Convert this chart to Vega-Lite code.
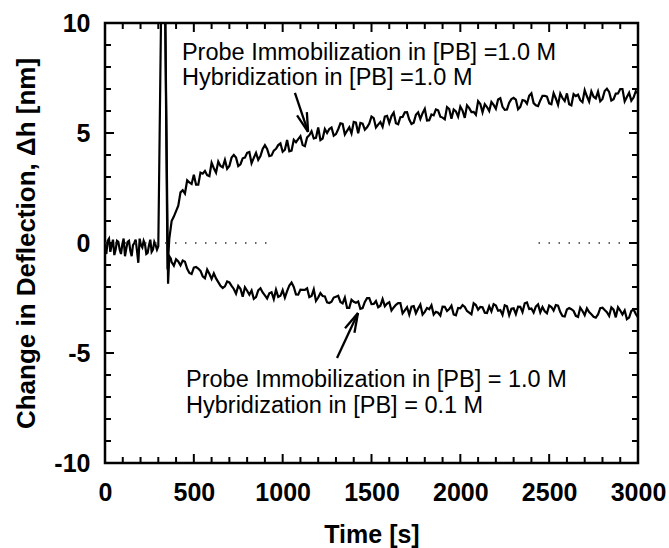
{
  "$schema": "https://vega.github.io/schema/vega-lite/v6.json",
  "width": 533,
  "height": 440,
  "autosize": "none",
  "padding": {"left": 105, "top": 23, "right": 31, "bottom": 85},
  "background": "white",
  "config": {
    "font": "Liberation Sans",
    "view": {"stroke": "black", "strokeWidth": 2.5},
    "axis": {"grid": false, "domain": false, "labelColor": "black", "titleColor": "black"}
  },
  "datasets": {
    "traces": [
      {"s":"a","t":0,"h":-0.2},{"s":"a","t":15,"h":0.1},{"s":"a","t":30,"h":-0.4},{"s":"a","t":45,"h":0.15},{"s":"a","t":60,"h":-0.3},{"s":"a","t":75,"h":0.05},{"s":"a","t":90,"h":-0.5},{"s":"a","t":105,"h":0.2},{"s":"a","t":120,"h":-0.25},{"s":"a","t":135,"h":0.1},{"s":"a","t":150,"h":-0.6},{"s":"a","t":165,"h":0.0},{"s":"a","t":180,"h":-0.35},{"s":"a","t":195,"h":0.2},{"s":"a","t":210,"h":-0.2},{"s":"a","t":225,"h":-0.05},{"s":"a","t":240,"h":-0.45},{"s":"a","t":255,"h":0.15},{"s":"a","t":270,"h":-0.3},{"s":"a","t":285,"h":-0.1},{"s":"a","t":300,"h":-0.15},
      {"s":"a","t":7.5,"h":-0.5},{"s":"a","t":22.5,"h":0.2},{"s":"a","t":37.5,"h":-0.1},{"s":"a","t":52.5,"h":-0.55},{"s":"a","t":67.5,"h":0.1},{"s":"a","t":82.5,"h":-0.3},{"s":"a","t":97.5,"h":-0.05},{"s":"a","t":112.5,"h":-0.6},{"s":"a","t":127.5,"h":0.05},{"s":"a","t":142.5,"h":-0.35},{"s":"a","t":157.5,"h":-0.1},{"s":"a","t":172.5,"h":0.15},{"s":"a","t":187.5,"h":-0.9},{"s":"a","t":202.5,"h":-0.1},{"s":"a","t":217.5,"h":0.1},{"s":"a","t":232.5,"h":-0.5},{"s":"a","t":247.5,"h":-0.1},{"s":"a","t":262.5,"h":-0.4},{"s":"a","t":277.5,"h":0.05},{"s":"a","t":292.5,"h":-0.3},
      {"s":"a","t":318,"h":12},{"s":"a","t":337,"h":12},{"s":"a","t":352,"h":-1.2},{"s":"a","t":362,"h":0.2},{"s":"a","t":375,"h":1.0},{"s":"a","t":400,"h":1.45},{"s":"a","t":425,"h":2.3},{"s":"a","t":450,"h":2.25},{"s":"a","t":475,"h":2.75},{"s":"a","t":500,"h":3.1},{"s":"a","t":525,"h":2.65},{"s":"a","t":550,"h":3.15},{"s":"a","t":575,"h":3.08},{"s":"a","t":600,"h":3.65},{"s":"a","t":625,"h":3.2},{"s":"a","t":650,"h":3.5},{"s":"a","t":675,"h":3.78},{"s":"a","t":700,"h":3.5},{"s":"a","t":725,"h":4.0},{"s":"a","t":750,"h":3.5},{"s":"a","t":775,"h":3.85},{"s":"a","t":800,"h":4.1},{"s":"a","t":825,"h":3.63},{"s":"a","t":850,"h":4.1},{"s":"a","t":875,"h":3.95},{"s":"a","t":900,"h":4.45},{"s":"a","t":925,"h":3.95},{"s":"a","t":950,"h":4.2},{"s":"a","t":975,"h":4.45},{"s":"a","t":1000,"h":4.15},{"s":"a","t":1025,"h":4.68},{"s":"a","t":1050,"h":4.2},{"s":"a","t":1075,"h":4.58},{"s":"a","t":1100,"h":4.85},{"s":"a","t":1125,"h":4.4},{"s":"a","t":1150,"h":4.9},{"s":"a","t":1175,"h":4.75},{"s":"a","t":1200,"h":5.25},{"s":"a","t":1225,"h":4.75},{"s":"a","t":1250,"h":5.0},{"s":"a","t":1275,"h":5.25},{"s":"a","t":1300,"h":4.95},{"s":"a","t":1325,"h":5.44},{"s":"a","t":1350,"h":4.93},{"s":"a","t":1375,"h":5.26},{"s":"a","t":1400,"h":5.5},{"s":"a","t":1425,"h":4.99},{"s":"a","t":1450,"h":5.43},{"s":"a","t":1475,"h":5.26},{"s":"a","t":1500,"h":5.75},{"s":"a","t":1525,"h":5.25},{"s":"a","t":1550,"h":5.5},{"s":"a","t":1575,"h":5.75},{"s":"a","t":1600,"h":5.45},{"s":"a","t":1625,"h":5.93},{"s":"a","t":1650,"h":5.4},{"s":"a","t":1675,"h":5.73},{"s":"a","t":1700,"h":5.95},{"s":"a","t":1725,"h":5.41},{"s":"a","t":1750,"h":5.83},{"s":"a","t":1775,"h":5.64},{"s":"a","t":1800,"h":6.1},{"s":"a","t":1825,"h":5.58},{"s":"a","t":1850,"h":5.8},{"s":"a","t":1875,"h":6.03},{"s":"a","t":1900,"h":5.7},{"s":"a","t":1925,"h":6.18},{"s":"a","t":1950,"h":5.65},{"s":"a","t":1975,"h":5.98},{"s":"a","t":2000,"h":6.2},{"s":"a","t":2025,"h":5.69},{"s":"a","t":2050,"h":6.13},{"s":"a","t":2075,"h":5.96},{"s":"a","t":2100,"h":6.45},{"s":"a","t":2125,"h":5.94},{"s":"a","t":2150,"h":6.18},{"s":"a","t":2175,"h":6.41},{"s":"a","t":2200,"h":6.1},{"s":"a","t":2225,"h":6.58},{"s":"a","t":2250,"h":6.05},{"s":"a","t":2275,"h":6.38},{"s":"a","t":2300,"h":6.6},{"s":"a","t":2325,"h":6.08},{"s":"a","t":2350,"h":6.5},{"s":"a","t":2375,"h":6.33},{"s":"a","t":2400,"h":6.8},{"s":"a","t":2425,"h":6.26},{"s":"a","t":2450,"h":6.48},{"s":"a","t":2475,"h":6.69},{"s":"a","t":2500,"h":6.35},{"s":"a","t":2525,"h":6.81},{"s":"a","t":2550,"h":6.28},{"s":"a","t":2575,"h":6.59},{"s":"a","t":2600,"h":6.8},{"s":"a","t":2625,"h":6.26},{"s":"a","t":2650,"h":6.68},{"s":"a","t":2675,"h":6.49},{"s":"a","t":2700,"h":6.95},{"s":"a","t":2725,"h":6.43},{"s":"a","t":2750,"h":6.65},{"s":"a","t":2775,"h":6.88},{"s":"a","t":2800,"h":6.55},{"s":"a","t":2825,"h":7.01},{"s":"a","t":2850,"h":6.48},{"s":"a","t":2875,"h":6.79},{"s":"a","t":2900,"h":7.0},{"s":"a","t":2925,"h":6.44},{"s":"a","t":2950,"h":6.83},{"s":"a","t":2975,"h":6.61},{"s":"a","t":3000,"h":6.8},
      {"s":"a","t":387.5,"h":1.2},{"s":"a","t":412.5,"h":1.7},{"s":"a","t":437.5,"h":2.4},{"s":"a","t":462.5,"h":2.85},{"s":"a","t":487.5,"h":2.68},{"s":"a","t":512.5,"h":2.65},{"s":"a","t":537.5,"h":3.2},{"s":"a","t":562.5,"h":3.27},{"s":"a","t":587.5,"h":3.04},{"s":"a","t":612.5,"h":3.4},{"s":"a","t":637.5,"h":3.7},{"s":"a","t":662.5,"h":3.44},{"s":"a","t":687.5,"h":3.37},{"s":"a","t":712.5,"h":3.88},{"s":"a","t":737.5,"h":3.88},{"s":"a","t":762.5,"h":3.58},{"s":"a","t":787.5,"h":3.88},{"s":"a","t":812.5,"h":4.14},{"s":"a","t":837.5,"h":3.87},{"s":"a","t":862.5,"h":3.78},{"s":"a","t":887.5,"h":4.28},{"s":"a","t":912.5,"h":4.28},{"s":"a","t":937.5,"h":3.98},{"s":"a","t":962.5,"h":4.28},{"s":"a","t":987.5,"h":4.53},{"s":"a","t":1012.5,"h":4.24},{"s":"a","t":1037.5,"h":4.17},{"s":"a","t":1062.5,"h":4.69},{"s":"a","t":1087.5,"h":4.72},{"s":"a","t":1112.5,"h":4.45},{"s":"a","t":1137.5,"h":4.8},{"s":"a","t":1162.5,"h":5.08},{"s":"a","t":1187.5,"h":4.78},{"s":"a","t":1212.5,"h":4.68},{"s":"a","t":1237.5,"h":5.18},{"s":"a","t":1262.5,"h":5.18},{"s":"a","t":1287.5,"h":4.88},{"s":"a","t":1312.5,"h":5.17},{"s":"a","t":1337.5,"h":5.41},{"s":"a","t":1362.5,"h":5.1},{"s":"a","t":1387.5,"h":4.98},{"s":"a","t":1412.5,"h":5.47},{"s":"a","t":1437.5,"h":5.46},{"s":"a","t":1462.5,"h":5.15},{"s":"a","t":1487.5,"h":5.43},{"s":"a","t":1512.5,"h":5.68},{"s":"a","t":1537.5,"h":5.38},{"s":"a","t":1562.5,"h":5.28},{"s":"a","t":1587.5,"h":5.78},{"s":"a","t":1612.5,"h":5.77},{"s":"a","t":1637.5,"h":5.44},{"s":"a","t":1662.5,"h":5.72},{"s":"a","t":1687.5,"h":5.94},{"s":"a","t":1712.5,"h":5.61},{"s":"a","t":1737.5,"h":5.47},{"s":"a","t":1762.5,"h":5.94},{"s":"a","t":1787.5,"h":5.9},{"s":"a","t":1812.5,"h":5.57},{"s":"a","t":1837.5,"h":5.84},{"s":"a","t":1862.5,"h":6.07},{"s":"a","t":1887.5,"h":5.74},{"s":"a","t":1912.5,"h":5.62},{"s":"a","t":1937.5,"h":6.09},{"s":"a","t":1962.5,"h":6.07},{"s":"a","t":1987.5,"h":5.74},{"s":"a","t":2012.5,"h":6.02},{"s":"a","t":2037.5,"h":6.26},{"s":"a","t":2062.5,"h":5.95},{"s":"a","t":2087.5,"h":5.83},{"s":"a","t":2112.5,"h":6.32},{"s":"a","t":2137.5,"h":6.31},{"s":"a","t":2162.5,"h":6.0},{"s":"a","t":2187.5,"h":6.28},{"s":"a","t":2212.5,"h":6.52},{"s":"a","t":2237.5,"h":6.19},{"s":"a","t":2262.5,"h":6.07},{"s":"a","t":2287.5,"h":6.54},{"s":"a","t":2312.5,"h":6.52},{"s":"a","t":2337.5,"h":6.19},{"s":"a","t":2362.5,"h":6.47},{"s":"a","t":2387.5,"h":6.69},{"s":"a","t":2412.5,"h":6.36},{"s":"a","t":2437.5,"h":6.22},{"s":"a","t":2462.5,"h":6.69},{"s":"a","t":2487.5,"h":6.65},{"s":"a","t":2512.5,"h":6.31},{"s":"a","t":2537.5,"h":6.57},{"s":"a","t":2562.5,"h":6.79},{"s":"a","t":2587.5,"h":6.45},{"s":"a","t":2612.5,"h":6.31},{"s":"a","t":2637.5,"h":6.77},{"s":"a","t":2662.5,"h":6.74},{"s":"a","t":2687.5,"h":6.4},{"s":"a","t":2712.5,"h":6.67},{"s":"a","t":2737.5,"h":6.89},{"s":"a","t":2762.5,"h":6.57},{"s":"a","t":2787.5,"h":6.44},{"s":"a","t":2812.5,"h":6.91},{"s":"a","t":2837.5,"h":6.87},{"s":"a","t":2862.5,"h":6.54},{"s":"a","t":2887.5,"h":6.8},{"s":"a","t":2912.5,"h":7.0},{"s":"a","t":2937.5,"h":6.64},{"s":"a","t":2962.5,"h":6.47},{"s":"a","t":2987.5,"h":6.9},
      {"s":"b","t":337,"h":12},{"s":"b","t":355,"h":-1.85},{"s":"b","t":362,"h":-0.6},{"s":"b","t":370,"h":-0.7},{"s":"b","t":375,"h":-0.87},{"s":"b","t":400,"h":-0.74},{"s":"b","t":425,"h":-1.02},{"s":"b","t":450,"h":-0.85},{"s":"b","t":475,"h":-1.36},{"s":"b","t":500,"h":-1.12},{"s":"b","t":525,"h":-1.16},{"s":"b","t":550,"h":-1.51},{"s":"b","t":575,"h":-1.21},{"s":"b","t":600,"h":-1.63},{"s":"b","t":625,"h":-1.61},{"s":"b","t":650,"h":-1.95},{"s":"b","t":675,"h":-1.97},{"s":"b","t":700,"h":-1.79},{"s":"b","t":725,"h":-2.09},{"s":"b","t":750,"h":-1.95},{"s":"b","t":775,"h":-2.44},{"s":"b","t":800,"h":-2.17},{"s":"b","t":825,"h":-2.16},{"s":"b","t":850,"h":-2.46},{"s":"b","t":875,"h":-2.06},{"s":"b","t":900,"h":-2.38},{"s":"b","t":925,"h":-2.29},{"s":"b","t":950,"h":-2.55},{"s":"b","t":975,"h":-2.45},{"s":"b","t":1000,"h":-2.14},{"s":"b","t":1025,"h":-2.19},{"s":"b","t":1050,"h":-1.8},{"s":"b","t":1075,"h":-2.34},{"s":"b","t":1100,"h":-2.12},{"s":"b","t":1125,"h":-2.13},{"s":"b","t":1150,"h":-2.46},{"s":"b","t":1175,"h":-2.11},{"s":"b","t":1200,"h":-2.48},{"s":"b","t":1225,"h":-2.41},{"s":"b","t":1250,"h":-2.7},{"s":"b","t":1275,"h":-2.67},{"s":"b","t":1300,"h":-2.44},{"s":"b","t":1325,"h":-2.68},{"s":"b","t":1350,"h":-2.48},{"s":"b","t":1375,"h":-2.95},{"s":"b","t":1400,"h":-2.67},{"s":"b","t":1425,"h":-2.66},{"s":"b","t":1450,"h":-2.96},{"s":"b","t":1475,"h":-2.51},{"s":"b","t":1500,"h":-2.78},{"s":"b","t":1525,"h":-2.64},{"s":"b","t":1550,"h":-2.85},{"s":"b","t":1575,"h":-2.87},{"s":"b","t":1600,"h":-2.69},{"s":"b","t":1625,"h":-2.93},{"s":"b","t":1650,"h":-2.73},{"s":"b","t":1675,"h":-3.2},{"s":"b","t":1700,"h":-2.92},{"s":"b","t":1725,"h":-2.89},{"s":"b","t":1750,"h":-3.19},{"s":"b","t":1775,"h":-2.8},{"s":"b","t":1800,"h":-3.13},{"s":"b","t":1825,"h":-3.01},{"s":"b","t":1850,"h":-3.25},{"s":"b","t":1875,"h":-3.17},{"s":"b","t":1900,"h":-2.89},{"s":"b","t":1925,"h":-3.09},{"s":"b","t":1950,"h":-2.85},{"s":"b","t":1975,"h":-3.29},{"s":"b","t":2000,"h":-2.97},{"s":"b","t":2025,"h":-2.91},{"s":"b","t":2050,"h":-3.16},{"s":"b","t":2075,"h":-2.74},{"s":"b","t":2100,"h":-3.03},{"s":"b","t":2125,"h":-2.92},{"s":"b","t":2150,"h":-3.18},{"s":"b","t":2175,"h":-3.11},{"s":"b","t":2200,"h":-2.84},{"s":"b","t":2225,"h":-3.05},{"s":"b","t":2250,"h":-2.83},{"s":"b","t":2275,"h":-3.28},{"s":"b","t":2300,"h":-2.97},{"s":"b","t":2325,"h":-2.89},{"s":"b","t":2350,"h":-3.14},{"s":"b","t":2375,"h":-2.7},{"s":"b","t":2400,"h":-2.98},{"s":"b","t":2425,"h":-2.89},{"s":"b","t":2450,"h":-3.15},{"s":"b","t":2475,"h":-3.1},{"s":"b","t":2500,"h":-2.84},{"s":"b","t":2525,"h":-3.07},{"s":"b","t":2550,"h":-2.85},{"s":"b","t":2575,"h":-3.32},{"s":"b","t":2600,"h":-3.02},{"s":"b","t":2625,"h":-3.01},{"s":"b","t":2650,"h":-3.31},{"s":"b","t":2675,"h":-2.94},{"s":"b","t":2700,"h":-3.28},{"s":"b","t":2725,"h":-3.14},{"s":"b","t":2750,"h":-3.35},{"s":"b","t":2775,"h":-3.25},{"s":"b","t":2800,"h":-2.94},{"s":"b","t":2825,"h":-3.15},{"s":"b","t":2850,"h":-2.93},{"s":"b","t":2875,"h":-3.38},{"s":"b","t":2900,"h":-3.07},{"s":"b","t":2925,"h":-3.07},{"s":"b","t":2950,"h":-3.39},{"s":"b","t":2975,"h":-3.02},{"s":"b","t":3000,"h":-3.38},
      {"s":"b","t":387.5,"h":-1.03},{"s":"b","t":412.5,"h":-0.84},{"s":"b","t":437.5,"h":-0.8},{"s":"b","t":462.5,"h":-1.17},{"s":"b","t":487.5,"h":-1.41},{"s":"b","t":512.5,"h":-1.09},{"s":"b","t":537.5,"h":-1.27},{"s":"b","t":562.5,"h":-1.6},{"s":"b","t":587.5,"h":-1.4},{"s":"b","t":612.5,"h":-1.38},{"s":"b","t":637.5,"h":-1.78},{"s":"b","t":662.5,"h":-2.05},{"s":"b","t":687.5,"h":-1.75},{"s":"b","t":712.5,"h":-1.95},{"s":"b","t":737.5,"h":-2.3},{"s":"b","t":762.5,"h":-2.08},{"s":"b","t":787.5,"h":-2.01},{"s":"b","t":812.5,"h":-2.35},{"s":"b","t":837.5,"h":-2.54},{"s":"b","t":862.5,"h":-2.15},{"s":"b","t":887.5,"h":-2.25},{"s":"b","t":912.5,"h":-2.52},{"s":"b","t":937.5,"h":-2.24},{"s":"b","t":962.5,"h":-2.12},{"s":"b","t":987.5,"h":-2.4},{"s":"b","t":1012.5,"h":-2.48},{"s":"b","t":1037.5,"h":-1.93},{"s":"b","t":1062.5,"h":-2.0},{"s":"b","t":1087.5,"h":-2.35},{"s":"b","t":1112.5,"h":-2.13},{"s":"b","t":1137.5,"h":-2.06},{"s":"b","t":1162.5,"h":-2.41},{"s":"b","t":1187.5,"h":-2.63},{"s":"b","t":1212.5,"h":-2.28},{"s":"b","t":1237.5,"h":-2.43},{"s":"b","t":1262.5,"h":-2.73},{"s":"b","t":1287.5,"h":-2.48},{"s":"b","t":1312.5,"h":-2.4},{"s":"b","t":1337.5,"h":-2.74},{"s":"b","t":1362.5,"h":-2.95},{"s":"b","t":1387.5,"h":-2.58},{"s":"b","t":1412.5,"h":-2.72},{"s":"b","t":1437.5,"h":-2.99},{"s":"b","t":1462.5,"h":-2.68},{"s":"b","t":1487.5,"h":-2.51},{"s":"b","t":1512.5,"h":-2.77},{"s":"b","t":1537.5,"h":-2.92},{"s":"b","t":1562.5,"h":-2.55},{"s":"b","t":1587.5,"h":-2.75},{"s":"b","t":1612.5,"h":-3.07},{"s":"b","t":1637.5,"h":-2.81},{"s":"b","t":1662.5,"h":-2.73},{"s":"b","t":1687.5,"h":-3.06},{"s":"b","t":1712.5,"h":-3.25},{"s":"b","t":1737.5,"h":-2.87},{"s":"b","t":1762.5,"h":-2.98},{"s":"b","t":1787.5,"h":-3.25},{"s":"b","t":1812.5,"h":-2.95},{"s":"b","t":1837.5,"h":-2.83},{"s":"b","t":1862.5,"h":-3.13},{"s":"b","t":1887.5,"h":-3.3},{"s":"b","t":1912.5,"h":-2.9},{"s":"b","t":1937.5,"h":-3.0},{"s":"b","t":1962.5,"h":-3.25},{"s":"b","t":1987.5,"h":-2.95},{"s":"b","t":2012.5,"h":-2.82},{"s":"b","t":2037.5,"h":-3.09},{"s":"b","t":2062.5,"h":-3.24},{"s":"b","t":2087.5,"h":-2.82},{"s":"b","t":2112.5,"h":-2.91},{"s":"b","t":2137.5,"h":-3.17},{"s":"b","t":2162.5,"h":-2.88},{"s":"b","t":2187.5,"h":-2.78},{"s":"b","t":2212.5,"h":-3.08},{"s":"b","t":2237.5,"h":-3.27},{"s":"b","t":2262.5,"h":-2.88},{"s":"b","t":2287.5,"h":-2.99},{"s":"b","t":2312.5,"h":-3.23},{"s":"b","t":2337.5,"h":-2.9},{"s":"b","t":2362.5,"h":-2.74},{"s":"b","t":2387.5,"h":-3.0},{"s":"b","t":2412.5,"h":-3.16},{"s":"b","t":2437.5,"h":-2.79},{"s":"b","t":2462.5,"h":-2.91},{"s":"b","t":2487.5,"h":-3.19},{"s":"b","t":2512.5,"h":-2.91},{"s":"b","t":2537.5,"h":-2.82},{"s":"b","t":2562.5,"h":-3.14},{"s":"b","t":2587.5,"h":-3.34},{"s":"b","t":2612.5,"h":-2.96},{"s":"b","t":2637.5,"h":-3.09},{"s":"b","t":2662.5,"h":-3.36},{"s":"b","t":2687.5,"h":-3.09},{"s":"b","t":2712.5,"h":-2.97},{"s":"b","t":2737.5,"h":-3.24},{"s":"b","t":2762.5,"h":-3.39},{"s":"b","t":2787.5,"h":-2.96},{"s":"b","t":2812.5,"h":-3.05},{"s":"b","t":2837.5,"h":-3.32},{"s":"b","t":2862.5,"h":-3.03},{"s":"b","t":2887.5,"h":-2.92},{"s":"b","t":2912.5,"h":-3.25},{"s":"b","t":2937.5,"h":-3.46},{"s":"b","t":2962.5,"h":-3.09},{"s":"b","t":2987.5,"h":-3.23}
    ],
    "zero": [
      {"t": 0, "t2": 930, "h": 0},
      {"t": 2440, "t2": 2900, "h": 0}
    ],
    "notes": [
      {"t": 433, "h": 8.32, "label": "Probe Immobilization in [PB] =1.0 M"},
      {"t": 433, "h": 7.18, "label": "Hybridization in [PB] =1.0 M"},
      {"t": 456, "h": -6.55, "label": "Probe Immobilization in [PB] = 1.0 M"},
      {"t": 456, "h": -7.73, "label": "Hybridization in [PB] = 0.1 M"}
    ],
    "arrows": [
      {"t": 1069, "h": 6.82, "t2": 1143, "h2": 5.05},
      {"t": 1306, "h": -5.23, "t2": 1424, "h2": -3.18},
      {"t": 1143, "h": 5.05, "t2": 1136, "h2": 5.95},
      {"t": 1143, "h": 5.05, "t2": 1081, "h2": 5.80},
      {"t": 1424, "h": -3.18, "t2": 1351, "h2": -3.88},
      {"t": 1424, "h": -3.18, "t2": 1404, "h2": -4.08}
    ],
    "xmajor": [{"v":500,"e":-10},{"v":1000,"e":-10},{"v":1500,"e":-10},{"v":2000,"e":-10},{"v":2500,"e":-10},{"v":500,"e":10},{"v":1000,"e":10},{"v":1500,"e":10},{"v":2000,"e":10},{"v":2500,"e":10}],
    "xminor": [{"v":100,"e":-10},{"v":200,"e":-10},{"v":300,"e":-10},{"v":400,"e":-10},{"v":600,"e":-10},{"v":700,"e":-10},{"v":800,"e":-10},{"v":900,"e":-10},{"v":1100,"e":-10},{"v":1200,"e":-10},{"v":1300,"e":-10},{"v":1400,"e":-10},{"v":1600,"e":-10},{"v":1700,"e":-10},{"v":1800,"e":-10},{"v":1900,"e":-10},{"v":2100,"e":-10},{"v":2200,"e":-10},{"v":2300,"e":-10},{"v":2400,"e":-10},{"v":2600,"e":-10},{"v":2700,"e":-10},{"v":2800,"e":-10},{"v":2900,"e":-10},
               {"v":100,"e":10},{"v":200,"e":10},{"v":300,"e":10},{"v":400,"e":10},{"v":600,"e":10},{"v":700,"e":10},{"v":800,"e":10},{"v":900,"e":10},{"v":1100,"e":10},{"v":1200,"e":10},{"v":1300,"e":10},{"v":1400,"e":10},{"v":1600,"e":10},{"v":1700,"e":10},{"v":1800,"e":10},{"v":1900,"e":10},{"v":2100,"e":10},{"v":2200,"e":10},{"v":2300,"e":10},{"v":2400,"e":10},{"v":2600,"e":10},{"v":2700,"e":10},{"v":2800,"e":10},{"v":2900,"e":10}],
    "ymajor": [{"v":-5,"e":0},{"v":0,"e":0},{"v":5,"e":0},{"v":-5,"e":3000},{"v":0,"e":3000},{"v":5,"e":3000}],
    "yminor": [{"v":-9,"e":0},{"v":-8,"e":0},{"v":-7,"e":0},{"v":-6,"e":0},{"v":-4,"e":0},{"v":-3,"e":0},{"v":-2,"e":0},{"v":-1,"e":0},{"v":1,"e":0},{"v":2,"e":0},{"v":3,"e":0},{"v":4,"e":0},{"v":6,"e":0},{"v":7,"e":0},{"v":8,"e":0},{"v":9,"e":0},
               {"v":-9,"e":3000},{"v":-8,"e":3000},{"v":-7,"e":3000},{"v":-6,"e":3000},{"v":-4,"e":3000},{"v":-3,"e":3000},{"v":-2,"e":3000},{"v":-1,"e":3000},{"v":1,"e":3000},{"v":2,"e":3000},{"v":3,"e":3000},{"v":4,"e":3000},{"v":6,"e":3000},{"v":7,"e":3000},{"v":8,"e":3000},{"v":9,"e":3000}]
  },
  "layer": [
    {
      "data": {"name": "xmajor"},
      "mark": {"type": "tick", "orient": "vertical", "color": "black", "size": 18, "thickness": 2, "clip": true, "opacity": 1},
      "encoding": {"x": {"field": "v", "type": "quantitative", "scale": {"domain": [0, 3000], "nice": false}}, "y": {"field": "e", "type": "quantitative", "scale": {"domain": [-10, 10], "nice": false}}}
    },
    {
      "data": {"name": "xminor"},
      "mark": {"type": "tick", "orient": "vertical", "color": "black", "size": 12, "thickness": 2, "clip": true, "opacity": 1},
      "encoding": {"x": {"field": "v", "type": "quantitative"}, "y": {"field": "e", "type": "quantitative"}}
    },
    {
      "data": {"name": "ymajor"},
      "mark": {"type": "tick", "orient": "horizontal", "color": "black", "size": 18, "thickness": 2, "clip": true, "opacity": 1},
      "encoding": {"y": {"field": "v", "type": "quantitative"}, "x": {"field": "e", "type": "quantitative"}}
    },
    {
      "data": {"name": "yminor"},
      "mark": {"type": "tick", "orient": "horizontal", "color": "black", "size": 12, "thickness": 2, "clip": true, "opacity": 1},
      "encoding": {"y": {"field": "v", "type": "quantitative"}, "x": {"field": "e", "type": "quantitative"}}
    },
    {
      "data": {"name": "traces"},
      "mark": {"type": "line", "color": "black", "strokeWidth": 2.2, "clip": true, "interpolate": "linear"},
      "encoding": {
        "x": {"field": "t", "type": "quantitative", "scale": {"domain": [0, 3000], "nice": false},
          "axis": {"orient": "bottom", "values": [0, 500, 1000, 1500, 2000, 2500, 3000], "labelExpr": "'' + datum.value", "ticks": false, "tickSize": 0, "labelPadding": 17, "labelFontSize": 25, "labelFontWeight": "bold", "title": "Time [s]", "titleFontSize": 25, "titleFontWeight": "bold", "titlePadding": 17, "labelFlush": false, "labelOverlap": false}},
        "y": {"field": "h", "type": "quantitative", "scale": {"domain": [-10, 10], "nice": false},
          "axis": {"orient": "left", "values": [-10, -5, 0, 5, 10], "labelExpr": "'' + datum.value", "ticks": false, "tickSize": 0, "labelPadding": 15, "labelFontSize": 25, "labelFontWeight": "bold", "title": "Change in Deflection, Δh [nm]", "titleFontSize": 26, "titleFontWeight": "bold", "titlePadding": 14, "labelFlush": false, "labelOverlap": false}},
        "detail": {"field": "s", "type": "nominal"}
      }
    },
    {
      "data": {"name": "zero"},
      "mark": {"type": "rule", "color": "#333333", "strokeWidth": 1.5, "strokeDash": [1.5, 8.5]},
      "encoding": {
        "x": {"field": "t", "type": "quantitative"},
        "x2": {"field": "t2"},
        "y": {"field": "h", "type": "quantitative"}
      }
    },
    {
      "data": {"name": "notes"},
      "mark": {"type": "text", "align": "left", "baseline": "alphabetic", "fontSize": 23.5, "color": "black", "font": "Liberation Sans"},
      "encoding": {
        "x": {"field": "t", "type": "quantitative"},
        "y": {"field": "h", "type": "quantitative"},
        "text": {"field": "label", "type": "nominal"}
      }
    },
    {
      "data": {"name": "arrows"},
      "mark": {"type": "rule", "color": "black", "strokeWidth": 2.3},
      "encoding": {
        "x": {"field": "t", "type": "quantitative"},
        "x2": {"field": "t2"},
        "y": {"field": "h", "type": "quantitative"},
        "y2": {"field": "h2"}
      }
    }
  ]
}
